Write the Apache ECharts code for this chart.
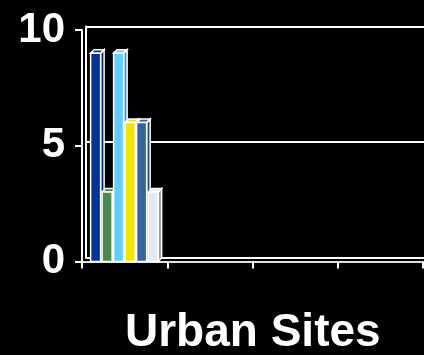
<!DOCTYPE html>
<html>
<head>
<meta charset="utf-8">
<script src="https://cdn.jsdelivr.net/npm/echarts@6/dist/echarts.min.js"></script>
<style>
html,body{margin:0;padding:0;background:#000;}
#chart{width:424px;height:355px;}
</style>
</head>
<body>
<div id="chart"></div>
<script>
// ---- data ----
const categories = ['Site 1', 'Site 2', 'Site 3', 'Site 4'];
const yTicks = [0, 5, 10];
const axisTitle = 'Urban Sites';
const seriesA = [9, null, null, null];
const seriesB = [3, null, null, null];
const seriesC = [9, null, null, null];
const seriesD = [6, null, null, null];
const seriesE = [6, null, null, null];
const seriesF = [3, null, null, null];
const seriesValues = [seriesA, seriesB, seriesC, seriesD, seriesE, seriesF];
const seriesColors = ['#003399', '#4a8a50', '#66ccff', '#f0e400', '#336699', '#e4e9ef'];
const sideColors = ['#001f66', '#2f5c34', '#3f95c4', '#a89d00', '#214466', '#9a9ea3'];

const chart = echarts.init(document.getElementById('chart'), null, {renderer: 'canvas'});
const FONT = "'Liberation Sans', Arial, sans-serif";
const nSeries = seriesValues.length;
const DEPTH = 3.5;

function makeRender(s) {
  return function (params, api) {
    const ci = api.value(0), v = api.value(1);
    const top = api.coord([ci, v]);
    const base = api.coord([ci, 0]);
    const band = api.size([1, 0])[0];
    const groupW = band * 0.81;
    const bw = groupW / nSeries;
    const x0 = top[0] - groupW / 2 + s * bw + 0.5;
    const x1 = x0 + bw - 1.5;
    const yT = top[1], yB = base[1];
    const d = DEPTH;
    const st = {stroke: '#ffffff', lineWidth: 1.5};
    return {
      type: 'group',
      children: [
        {type: 'polygon', shape: {points: [[x1, yB], [x1 + d, yB - d], [x1 + d, yT - d], [x1, yT]]},
         style: Object.assign({fill: sideColors[s]}, st)},
        {type: 'polygon', shape: {points: [[x0, yT], [x0 + d, yT - d], [x1 + d, yT - d], [x1, yT]]},
         style: Object.assign({fill: seriesColors[s]}, st)},
        {type: 'rect', shape: {x: x0, y: yT, width: x1 - x0, height: yB - yT},
         style: Object.assign({fill: seriesColors[s]}, st)}
      ]
    };
  };
}

const series = seriesValues.map(function (arr, s) {
  const data = [];
  arr.forEach(function (v, i) { if (v != null) data.push([i, v]); });
  return {
    type: 'custom',
    xAxisIndex: 1, yAxisIndex: 1,
    renderItem: makeRender(s),
    data: data,
    clip: false,
    z: 5
  };
});

chart.setOption({
  backgroundColor: '#000000',
  animation: false,
  grid: [
    {left: 86, right: -4, top: 26.5, bottom: 97.5},
    {left: 82, right: 1, top: 30, bottom: 93.5}
  ],
  xAxis: [
    {type: 'category', gridIndex: 0, data: categories, boundaryGap: true,
     axisLine: {show: true, lineStyle: {color: '#ffffff', width: 2}},
     axisTick: {show: false}, axisLabel: {show: false}, splitLine: {show: false}},
    {type: 'category', gridIndex: 1, data: categories, boundaryGap: true,
     axisLine: {show: true, lineStyle: {color: '#e0e0e0', width: 2}},
     axisTick: {show: true, length: 7, lineStyle: {color: '#ffffff', width: 2}},
     axisLabel: {show: false}, splitLine: {show: false}}
  ],
  yAxis: [
    {type: 'value', gridIndex: 0, min: 0, max: 10, interval: 5,
     axisLine: {show: true, lineStyle: {color: '#ffffff', width: 2}},
     axisTick: {show: false}, axisLabel: {show: false},
     splitLine: {show: true, lineStyle: {color: '#ffffff', width: 2}}},
    {type: 'value', gridIndex: 1, min: 0, max: 10, interval: 5,
     axisLine: {show: true, lineStyle: {color: '#ffffff', width: 2}},
     axisTick: {show: true, length: 7, lineStyle: {color: '#ffffff', width: 2}},
     axisLabel: {show: true, color: '#ffffff', fontFamily: FONT, fontWeight: 'bold',
       fontSize: 42, margin: 17, padding: [0, 0, 6, 0],
       formatter: function (v) { return yTicks.indexOf(v) >= 0 ? String(v) : ''; }},
     splitLine: {show: false}}
  ],
  graphic: [
    {type: 'text', left: 125, top: 310,
     style: {text: axisTitle, fill: '#ffffff', font: 'bold 46px ' + FONT}}
  ],
  series: series
});
</script>
</body>
</html>
